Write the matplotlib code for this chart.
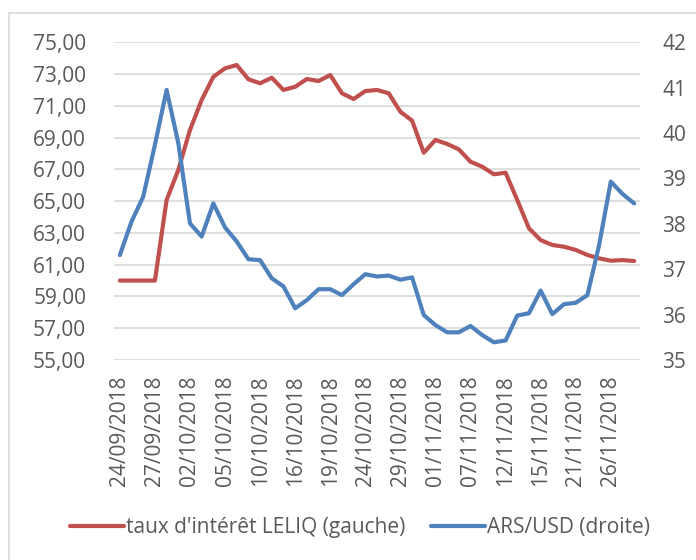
import matplotlib
matplotlib.use("Agg")
import matplotlib.pyplot as plt
from matplotlib.ticker import FuncFormatter, FixedLocator
from matplotlib.patches import Rectangle

# business days shown on the category axis
dates = ["24/09/2018", "25/09/2018", "26/09/2018", "27/09/2018", "28/09/2018",
         "01/10/2018", "02/10/2018", "03/10/2018", "04/10/2018", "05/10/2018",
         "08/10/2018", "09/10/2018", "10/10/2018", "11/10/2018", "12/10/2018",
         "16/10/2018", "17/10/2018", "18/10/2018", "19/10/2018", "22/10/2018",
         "23/10/2018", "24/10/2018", "25/10/2018", "26/10/2018", "29/10/2018",
         "30/10/2018", "31/10/2018", "01/11/2018", "02/11/2018", "05/11/2018",
         "07/11/2018", "08/11/2018", "09/11/2018", "12/11/2018", "13/11/2018",
         "14/11/2018", "15/11/2018", "16/11/2018", "20/11/2018", "21/11/2018",
         "22/11/2018", "23/11/2018", "26/11/2018", "27/11/2018", "28/11/2018"]

leliq = [60.0, 60.0, 60.0, 60.0, 65.07, 66.96, 69.48, 71.37, 72.83, 73.36,
         73.57, 72.67, 72.42, 72.77, 72.0, 72.2, 72.69, 72.56, 72.94, 71.79,
         71.43, 71.93, 72.0, 71.79, 70.63, 70.07, 68.05, 68.85, 68.6, 68.26,
         67.48, 67.17, 66.69, 66.79, 65.07, 63.29, 62.55, 62.24, 62.13, 61.93,
         61.61, 61.40, 61.25, 61.29, 61.23]

arsusd = [37.31, 38.05, 38.60, 39.74, 40.95, 39.78, 38.01, 37.72, 38.45, 37.92,
          37.61, 37.22, 37.20, 36.80, 36.62, 36.14, 36.32, 36.56, 36.56, 36.43,
          36.67, 36.89, 36.84, 36.86, 36.77, 36.82, 35.99, 35.77, 35.61, 35.61,
          35.75, 35.55, 35.39, 35.43, 35.98, 36.03, 36.53, 36.01, 36.23, 36.26,
          36.43, 37.53, 38.93, 38.66, 38.45]

label_leliq = "taux d'intérêt LELIQ (gauche)"
label_ars = "ARS/USD (droite)"

red = "#C0504D"
blue = "#4F81BD"
txt = "#595959"
grid = "#D9D9D9"

plt.rcParams["font.family"] = ["Open Sans", "DejaVu Sans"]

fig = plt.figure(figsize=(6.96, 5.6), dpi=100)
fig.patches.append(Rectangle((9 / 696, -0.1), 1.2, 1 - 13 / 560 + 0.1,
                             transform=fig.transFigure, fill=False,
                             edgecolor=grid, lw=1.2))

ax = fig.add_axes([114 / 696, 1 - 360 / 560, (640 - 114) / 696, (360 - 42.3) / 560])
ax2 = ax.twinx()

x = list(range(len(dates)))
l1, = ax.plot(x, leliq, color=red, lw=3, solid_capstyle="round", zorder=3)
l2, = ax2.plot(x, arsusd, color=blue, lw=3, solid_capstyle="round", zorder=3)

ax.set_xlim(-0.5, len(dates) - 0.5)
ax.set_ylim(55, 75)
ax.set_yticks(range(55, 76, 2))
ax.yaxis.set_major_formatter(FuncFormatter(lambda v, p: ("%.2f" % v).replace(".", ",")))
ax2.set_ylim(35, 42)
ax2.set_yticks(range(35, 43))

ax.xaxis.set_major_locator(FixedLocator(x[::3]))
ax.set_xticklabels(dates[::3], rotation=90)

ax.grid(axis="y", color=grid, lw=1.2)
ax.set_axisbelow(True)
for a in (ax, ax2):
    for s in a.spines.values():
        s.set_visible(False)
    a.tick_params(length=0, colors=txt, labelsize=15)
ax.tick_params(axis="y", pad=20)
ax2.tick_params(axis="y", pad=16)
ax.tick_params(axis="x", pad=11, labelsize=15)

fig.legend([l1, l2], [label_leliq, label_ars], loc="center",
           bbox_to_anchor=(360 / 696, 1 - 528 / 560), ncol=2, frameon=False,
           fontsize=15, labelcolor=txt, handlelength=2.6, handletextpad=0.1,
           columnspacing=1.2)

fig.savefig("out.png", dpi=100)
